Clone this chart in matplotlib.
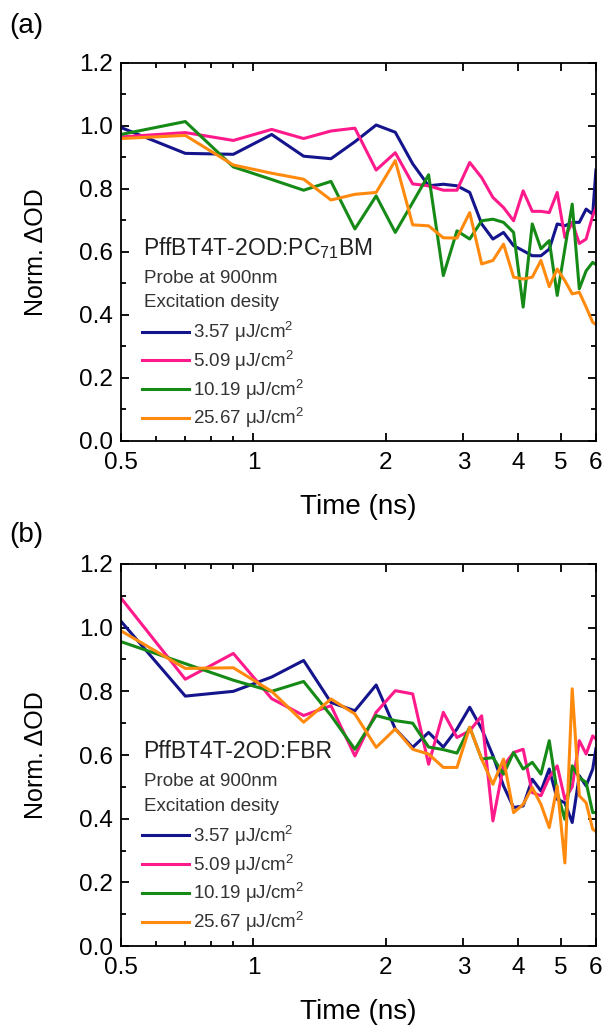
import matplotlib
matplotlib.use("Agg")
import matplotlib.pyplot as plt
from matplotlib.ticker import FixedLocator, MultipleLocator, FormatStrFormatter, NullFormatter

plt.rcParams['font.family'] = ['Liberation Sans', 'DejaVu Sans']
plt.rcParams['mathtext.fontset'] = 'custom'
plt.rcParams['mathtext.rm'] = 'Liberation Sans'
plt.rcParams['mathtext.it'] = 'Liberation Sans:italic'

# --- 数据 ---
time_ns = [0.5, 0.7, 0.9, 1.1, 1.3, 1.5, 1.7, 1.9, 2.1, 2.3, 2.5, 2.7, 2.9, 3.1, 3.3,
           3.5, 3.7, 3.9, 4.1, 4.3, 4.5, 4.7, 4.9, 5.1, 5.3, 5.5, 5.7, 5.9, 6.0]

pc71_357 = [0.995, 0.913, 0.91, 0.973, 0.904, 0.896, 0.95, 1.003, 0.98, 0.88, 0.81, 0.815,
            0.81, 0.789, 0.689, 0.641, 0.662, 0.62, 0.604, 0.588, 0.588, 0.609, 0.689,
            0.683, 0.694, 0.694, 0.736, 0.72, 0.86]
pc71_509 = [0.965, 0.979, 0.954, 0.989, 0.96, 0.984, 0.993, 0.86, 0.915, 0.816, 0.81, 0.796,
            0.796, 0.884, 0.836, 0.773, 0.741, 0.699, 0.794, 0.729, 0.729, 0.725, 0.789,
            0.646, 0.694, 0.627, 0.641, 0.715, 0.74]
pc71_1019 = [0.973, 1.014, 0.87, 0.83, 0.796, 0.824, 0.673, 0.778, 0.662, 0.757, 0.845, 0.525,
             0.667, 0.641, 0.699, 0.704, 0.694, 0.662, 0.425, 0.689, 0.61, 0.636, 0.462,
             0.61, 0.752, 0.483, 0.54, 0.567, 0.56]
pc71_2567 = [0.96, 0.97, 0.876, 0.85, 0.831, 0.765, 0.783, 0.789, 0.89, 0.686, 0.683, 0.645,
             0.644, 0.725, 0.562, 0.573, 0.625, 0.52, 0.514, 0.52, 0.573, 0.49, 0.546,
             0.509, 0.467, 0.472, 0.425, 0.377, 0.37]

fbr_357 = [1.02, 0.785, 0.80, 0.845, 0.897, 0.765, 0.739, 0.82, 0.682, 0.624, 0.671, 0.625,
           0.682, 0.75, 0.682, 0.598, 0.503, 0.435, 0.44, 0.524, 0.487, 0.556, 0.461,
           0.45, 0.388, 0.535, 0.503, 0.556, 0.62]
fbr_509 = [1.093, 0.838, 0.919, 0.777, 0.724, 0.755, 0.597, 0.734, 0.802, 0.792, 0.571, 0.734,
           0.655, 0.676, 0.723, 0.393, 0.566, 0.608, 0.618, 0.482, 0.472, 0.53, 0.566,
           0.461, 0.50, 0.645, 0.603, 0.66, 0.65]
fbr_1019 = [0.956, 0.887, 0.835, 0.80, 0.831, 0.724, 0.618, 0.724, 0.708, 0.70, 0.625, 0.617,
            0.606, 0.687, 0.587, 0.592, 0.54, 0.608, 0.556, 0.577, 0.54, 0.645, 0.482,
            0.398, 0.566, 0.529, 0.514, 0.419, 0.42]
fbr_2567 = [0.99, 0.872, 0.874, 0.80, 0.703, 0.776, 0.729, 0.624, 0.682, 0.618, 0.603, 0.561,
            0.561, 0.687, 0.587, 0.508, 0.587, 0.419, 0.445, 0.498, 0.445, 0.372, 0.503,
            0.261, 0.808, 0.472, 0.45, 0.367, 0.36]

densities = ['3.57', '5.09', '10.19', '25.67']
colors = ['#14148c', '#ff1a8c', '#168a16', '#ff8a0e']
x_ticks = [0.5, 1, 2, 3, 4, 5, 6]
x_minor = [0.6, 0.7, 0.8, 0.9]


def draw_panel(ax, series, sample):
    for y, dens, c in zip(series, densities, colors):
        ax.plot(time_ns, y, color=c, linewidth=2.2,
                label=dens + r' $\mathrm{\mu}$J/cm$^2$')

    ax.set_xscale('log')
    ax.set_xlim(0.5, 6)
    ax.set_ylim(0, 1.2)
    ax.xaxis.set_major_locator(FixedLocator(x_ticks))
    ax.xaxis.set_minor_locator(FixedLocator(x_minor))
    ax.set_xticklabels([str(v) for v in x_ticks])
    ax.xaxis.set_minor_formatter(NullFormatter())
    ax.yaxis.set_major_locator(MultipleLocator(0.2))
    ax.yaxis.set_minor_locator(MultipleLocator(0.1))
    ax.yaxis.set_major_formatter(FormatStrFormatter('%.1f'))

    ax.tick_params(which='both', direction='in', top=True, right=True,
                   width=1.3, labelsize=17.5)
    ax.tick_params(axis='x', which='major', pad=8)
    ax.tick_params(axis='y', which='major', pad=6)
    ax.tick_params(which='major', length=6)
    ax.tick_params(which='minor', length=3.5)
    for s in ax.spines.values():
        s.set_linewidth(1.3)

    ax.set_xlabel('Time (ns)', fontsize=20, labelpad=14)
    ax.set_ylabel('Norm. ΔOD', fontsize=18, labelpad=22)

    ax.text(0.046, 0.51, sample, transform=ax.transAxes, fontsize=16.5,
            color='#222222', va='center', ha='left')
    ax.text(0.048, 0.43, 'Probe at 900nm', transform=ax.transAxes, fontsize=13.5,
            color='#333333', va='center', ha='left')
    ax.text(0.048, 0.366, 'Excitation desity', transform=ax.transAxes, fontsize=13.5,
            color='#333333', va='center', ha='left')
    leg = ax.legend(loc='upper left', bbox_to_anchor=(0.045, 0.32), frameon=False,
                    fontsize=13.5, handlelength=2.5, handletextpad=0.2,
                    labelspacing=0.25, borderpad=0, borderaxespad=0)
    for t in leg.get_texts():
        t.set_color('#333333')


fig = plt.figure(figsize=(6.05, 10.32), dpi=100)
ax_a = fig.add_axes([0.2, 0.5727, 0.785, 0.3663])
ax_b = fig.add_axes([0.2, 0.0833, 0.785, 0.3702])

draw_panel(ax_a, [pc71_357, pc71_509, pc71_1019, pc71_2567], r'PffBT4T-2OD:PC$_{71}$BM')
draw_panel(ax_b, [fbr_357, fbr_509, fbr_1019, fbr_2567], 'PffBT4T-2OD:FBR')

fig.text(0.015, 0.975, '(a)', fontsize=20, va='center', ha='left')
fig.text(0.015, 0.482, '(b)', fontsize=20, va='center', ha='left')

fig.savefig('out.png', dpi=100)
